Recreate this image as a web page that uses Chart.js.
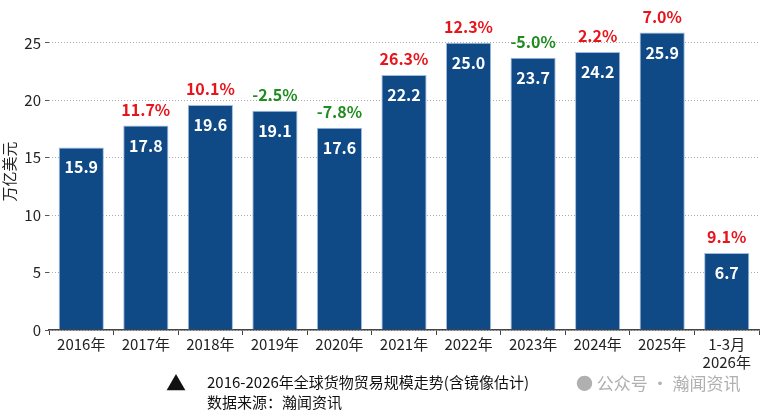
<!DOCTYPE html>
<html>
<head>
<meta charset="utf-8">
<script src="https://cdn.jsdelivr.net/npm/chart.js@4"></script>
<style>
  body { margin: 0; background: #fff; font-family: "Noto Sans CJK SC", sans-serif; }
  #wrap { position: relative; width: 770px; height: 415px; }
  .foot { position: absolute; color: #111; font-size: 15px; line-height: 20px; white-space: nowrap; }
  .mark { position: absolute; color: #b0b0b0; font-size: 17px; white-space: nowrap; }
</style>
</head>
<body>
<div id="wrap">
  <canvas id="chart" width="770" height="415"></canvas>
  <div class="foot" style="left:166px; top:373px; font-size:20px;">▲</div>
  <div class="foot" style="left:207px; top:372px;">2016-2026年全球货物贸易规模走势(含镜像估计)</div>
  <div class="foot" style="left:207px; top:392px;">数据来源：瀚闻资讯</div>
  <div class="mark" style="left:576px; top:370px;">● 公众号 · 瀚闻资讯</div>
</div>
<script>
var labels = ['2016年', '2017年', '2018年', '2019年', '2020年', '2021年', '2022年', '2023年', '2024年', '2025年', ['1-3月', '2026年']];
var values = [15.9, 17.8, 19.6, 19.1, 17.6, 22.2, 25.0, 23.7, 24.2, 25.9, 6.7];
var growth = [null, 11.7, 10.1, -2.5, -7.8, 26.3, 12.3, -5.0, 2.2, 7.0, 9.1];
var yTicks = [0, 5, 10, 15, 20, 25];

// value inside the bar, growth rate above it
var barLabels = {
  id: 'barLabels',
  afterDatasetsDraw: function (chart) {
    var ctx = chart.ctx;
    var meta = chart.getDatasetMeta(0);
    ctx.save();
    ctx.textAlign = 'center';
    ctx.textBaseline = 'middle';
    ctx.font = 'bold 16px "Noto Sans CJK SC"';
    meta.data.forEach(function (bar, i) {
      ctx.fillStyle = '#ffffff';
      ctx.fillText(values[i].toFixed(1), bar.x, bar.y + 20);
      if (growth[i] !== null) {
        ctx.fillStyle = growth[i] < 0 ? '#1e8c1e' : '#e8141c';
        ctx.fillText(growth[i].toFixed(1) + '%', bar.x, bar.y - 16);
      }
    });
    ctx.restore();
  }
};

new Chart(document.getElementById('chart').getContext('2d'), {
  type: 'bar',
  data: {
    labels: labels,
    datasets: [{
      data: values,
      backgroundColor: '#0f4a87',
      borderColor: '#9dbce0',
      borderWidth: 1,
      barPercentage: 0.7,
      categoryPercentage: 1.0
    }]
  },
  options: {
    responsive: false,
    animation: false,
    layout: { padding: { top: 5, right: 11, left: 0, bottom: 0 } },
    plugins: { legend: { display: false }, tooltip: { enabled: false } },
    scales: {
      x: {
        border: { color: '#444', width: 1.5 },
        grid: { drawOnChartArea: false, drawTicks: true, tickLength: 5, tickColor: '#444' },
        ticks: { color: '#222', font: { size: 15, family: 'Noto Sans CJK SC' }, padding: 0, maxRotation: 0 },
        afterFit: function (scale) { scale.height = 85; }
      },
      y: {
        min: 0,
        max: 27.6,
        border: { display: false, dash: [1, 2] },
        grid: { color: '#aaaaaa', tickColor: '#555', tickLength: 4, tickBorderDash: [] },
        afterBuildTicks: function (scale) {
          scale.ticks = yTicks.map(function (v) { return { value: v }; });
        },
        ticks: { color: '#222', font: { size: 15, family: 'Noto Sans CJK SC' }, padding: 4 },
        title: { display: true, text: '万亿美元', color: '#222', font: { size: 15, family: 'Noto Sans CJK SC' }, padding: { top: 0, bottom: 0 } },
        afterFit: function (scale) { scale.width = 49; }
      }
    }
  },
  plugins: [barLabels]
});
</script>
</body>
</html>
